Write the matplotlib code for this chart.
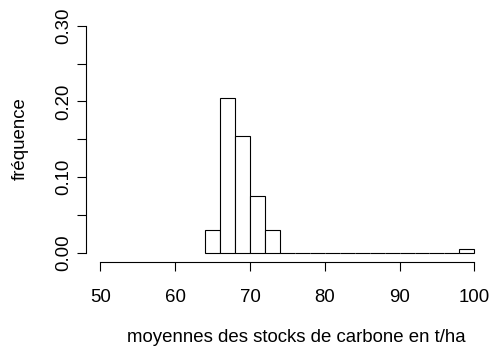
import matplotlib
matplotlib.use("Agg")
import matplotlib.pyplot as plt
import numpy as np

# bin edges (t/ha) and density values per bin
bin_edges = [64, 66, 68, 70, 72, 74, 76, 78, 80, 82, 84, 86, 88, 90, 92, 94, 96, 98, 100]
densities = [0.03, 0.205, 0.155, 0.075, 0.03, 0, 0, 0, 0, 0, 0, 0, 0, 0, 0, 0, 0, 0.005]
x_ticks = [50, 60, 70, 80, 90, 100]
y_ticks = [0.00, 0.05, 0.10, 0.15, 0.20, 0.25, 0.30]
y_labels = ["0.00", "", "0.10", "", "0.20", "", "0.30"]

plt.rcParams['font.family'] = ['Liberation Sans', 'DejaVu Sans']
FS = 13.45

W, H = 492, 346
fig = plt.figure(figsize=(W / 100, H / 100), dpi=100)
left, right, bottom, top = 85.5, 489.3, 262, 16.6
ax = fig.add_axes([left / W, 1 - bottom / H, (right - left) / W, (bottom - top) / H])

edges = np.array(bin_edges)
ax.bar(edges[:-1], densities, width=np.diff(edges), align='edge',
       facecolor='white', edgecolor='black', linewidth=0.8)

ax.set_xlim(48, 102)
ax.set_ylim(-0.012, 0.312)
ax.spines['top'].set_visible(False)
ax.spines['right'].set_visible(False)
ax.spines['left'].set_bounds(0, 0.3)
ax.spines['bottom'].set_bounds(50, 100)
for s in ['left', 'bottom']:
    ax.spines[s].set_linewidth(0.8)

ax.set_xticks(x_ticks)
ax.set_xticklabels([str(v) for v in x_ticks])
ax.set_yticks(y_ticks)
ax.set_yticklabels(y_labels, rotation=90, va='center')
ax.tick_params(axis='both', direction='out', length=6.5, width=0.8, labelsize=FS)
ax.tick_params(axis='x', pad=12.7)
ax.tick_params(axis='y', pad=3.0)

ax.set_xlabel("moyennes des stocks de carbone en t/ha", fontsize=FS)
ax.set_ylabel("fréquence", fontsize=FS)
ax.xaxis.set_label_coords((296 - left) / (right - left), (bottom - 329.5) / (bottom - top))
ax.yaxis.set_label_coords((28.9 - left) / (right - left), 0.503)

fig.savefig("out.png", dpi=100)
